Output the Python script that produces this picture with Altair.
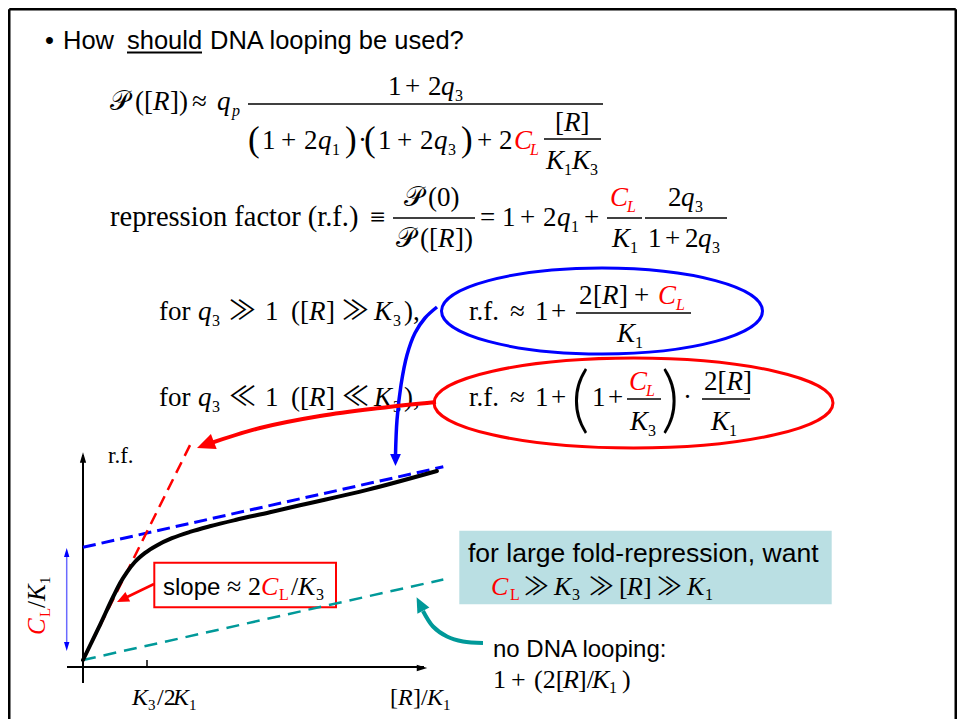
import altair as alt
import pandas as pd

W, H = 949, 711
OX, OY = 8, 8  # page offset of the plot area

# sketch coordinates: x in units of K3/2K1, y in r.f. units
GX0, GY0, UX, UY = 83.0, 667.0, 64.0, 7.0

curve_x = [0, 0.27, 0.47, 0.58, 0.69, 0.81, 0.97, 1.16, 1.39, 1.67, 1.98, 2.38, 2.92, 3.39, 4.44, 5.53]
curve_y = [1, 6.1, 10.0, 12.0, 13.6, 15.0, 16.3, 17.4, 18.4, 19.3, 20.1, 21.0, 22.1, 23.1, 25.3, 28.0]
blue_x = [0, 5.63]
blue_y = [17.1, 28.6]
red_x = [0, 1.70]
red_y = [1, 32.2]
teal_x = [0, 5.63]
teal_y = [1, 12.5]

SERIF = "Liberation Serif, Times New Roman, DejaVu Serif, serif"
SANS = "Liberation Sans, Arial, Helvetica, sans-serif"
SYMB = "Noto Sans CJK JP, DejaVu Sans, sans-serif"
THIN = "Lato, Liberation Serif, serif"
BLACK, RED, BLUE, TEAL = "#000000", "#ff0000", "#0000ff", "#009999"

texts = []


def add(x, y, t, st="r", s=27, c=BLACK):
    texts.append((x, y, t, st, s, c))


# title
T1 = 49
add(45, T1, "•", "a", 25.5)
add(63, T1, "How", "a", 25.5)
add(127, T1, "should", "a", 25.5)
add(210, T1, "DNA looping be used?", "a", 25.5)

# equation 1
L, N, D = 110, 95, 149
add(110, L, "𝒫"); add(135, L, "(["); add(153, L, "R", "i"); add(170, L, "])")
add(192, L, "≈"); add(217, L, "q", "i"); add(232, L + 6, "p", "i", 16)
add(388, N, "1"); add(405, N, "+"); add(428, N, "2"); add(441, N, "q", "i"); add(455, N + 6, "3", "r", 16)
add(248, 151, "(", "r", 35); add(262, D, "1"); add(281, D, "+"); add(304, D, "2"); add(318, D, "q", "i")
add(332, D + 6, "1", "r", 16); add(345, 151, ")", "r", 35); add(358, D, "·")
add(364, 151, "(", "r", 35); add(378, D, "1"); add(397, D, "+"); add(420, D, "2"); add(434, D, "q", "i")
add(448, D + 6, "3", "r", 16); add(461, 151, ")", "r", 35); add(477, D, "+"); add(499, D, "2")
add(514, D, "C", "i", 27, RED); add(530, D + 6, "L", "i", 16, RED)
add(555, 131, "["); add(564, 131, "R", "i"); add(580.5, 131, "]")
add(546, 169, "K", "i"); add(564, 175, "1", "r", 16); add(572, 169, "K", "i"); add(590, 175, "3", "r", 16)

# equation 2
M, N, D = 226, 206, 247
add(110, M, "repression factor (r.f.)", "r", 28.5); add(370, M, "≡")
add(404, N, "𝒫"); add(428, N, "(0)")
add(396, D, "𝒫"); add(420, D, "(["); add(438, D, "R", "i"); add(455, D, "])")
add(480, M, "="); add(502, M, "1"); add(520, M, "+"); add(543, M, "2"); add(557, M, "q", "i")
add(571, M + 6, "1", "r", 16); add(584, M, "+")
add(610, N, "C", "i", 27, RED); add(627, N + 6, "L", "i", 16, RED)
add(612, D, "K", "i"); add(630, D + 6, "1", "r", 16)
add(668, N, "2"); add(681, N, "q", "i"); add(695, N + 6, "3", "r", 16)
add(648, D, "1"); add(665, D, "+"); add(685, D, "2"); add(698, D, "q", "i"); add(712, D + 6, "3", "r", 16)

# equations 3 and 4
for M, rel in ((320, "≫"), (406, "≪")):
    add(159, M, "for"); add(198, M, "q", "i"); add(212, M + 6, "3", "r", 16); add(229, M, rel, "m", 27)
    add(265, M, "1"); add(291, M, "(["); add(309, M, "R", "i"); add(326, M, "]"); add(342, M, rel, "m", 27)
    add(374, M, "K", "i"); add(393, M + 6, "3", "r", 16); add(404, M, "),")
    add(469, M, "r.f."); add(510, M, "≈"); add(535, M, "1"); add(551, M, "+")

N, D = 304, 342
add(579, N, "2"); add(593, N, "["); add(602, N, "R", "i"); add(619, N, "]"); add(634, N, "+")
add(658, N, "C", "i", 27, RED); add(676, N + 6, "L", "i", 16, RED)
add(617, D, "K", "i"); add(635, D + 6, "1", "r", 16)

M, N, D = 406, 390, 430
add(571, 424, "(", "p", 72); add(592, M, "1"); add(608, M, "+")
add(629, N, "C", "i", 27, RED); add(646, N + 6, "L", "i", 16, RED)
add(630, D, "K", "i"); add(648, D + 6, "3", "r", 16)
add(661, 424, ")", "p", 72); add(683, M, "·")
add(704, N, "2"); add(717.5, N, "["); add(726.5, N, "R", "i"); add(743, N, "]")
add(711, D, "K", "i"); add(729, D + 6, "1", "r", 16)

# graph labels
add(108, 463, "r.f.", "r", 23)
add(132, 705, "K", "i", 24); add(148, 710, "3", "r", 15); add(157, 705, "/2", "r", 24)
add(173, 705, "K", "i", 24); add(189, 710, "1", "r", 15)
add(390, 705, "[", "r", 24); add(398, 705, "R", "i", 24); add(413, 705, "]/", "r", 24)
add(427, 705, "K", "i", 24); add(443, 710, "1", "r", 15)

# slope box
add(163, 595, "slope", "a", 24); add(227, 595, "≈", "r", 26); add(248, 595, "2", "r", 26)
add(261, 595, "C", "i", 26, RED); add(279, 600, "L", "r", 16, RED); add(291, 595, "/", "r", 26)
add(298, 595, "K", "i", 26); add(316, 600, "3", "r", 16)

# teal box
add(468, 562, "for large fold-repression, want", "a", 26.5)
add(491, 595, "C", "i", 26, RED); add(510, 600, "L", "r", 16, RED); add(524, 595, "≫", "m", 25)
add(554, 595, "K", "i", 26); add(572, 600, "3", "r", 16); add(589, 595, "≫", "m", 25)
add(619, 595, "[", "r", 26); add(627, 595, "R", "i", 26); add(643, 595, "]", "r", 26)
add(657, 595, "≫", "m", 25); add(687, 595, "K", "i", 26); add(705, 600, "1", "r", 16)

# no looping note
add(493, 657, "no DNA looping:", "a", 24)
add(493, 688, "1", "r", 26); add(511, 688, "+", "r", 26); add(534, 688, "(2[", "r", 26)
add(563, 688, "R", "i", 26); add(578, 688, "]/", "r", 26); add(592, 688, "K", "i", 26)
add(609, 693, "1", "r", 16); add(622, 688, ")", "r", 26)

# rotated label C_L/K_1
rot = [(45, 635, "C", "i", 25, RED), (50, 617, "L", "r", 15, RED), (45, 608, "/", "r", 25, BLACK),
       (45, 601, "K", "i", 25, BLACK), (50, 584, "1", "r", 15, BLACK)]

# straight segments in slide pixels: x, y, x2, y2, width, colour
segs = [
    (9.25, 9.25, 9.25, 719, 2.5, BLACK), (9.25, 9.25, 955.75, 9.25, 2.5, BLACK),
    (955.75, 9.25, 955.75, 719, 2.5, BLACK),
    (127, 52.5, 202, 52.5, 1.8, BLACK),
    (248, 104, 603, 104, 1.3, BLACK), (544, 139, 601, 139, 1.3, BLACK),
    (393, 218, 475, 218, 1.3, BLACK), (607, 218, 642, 218, 1.3, BLACK), (645, 218, 727, 218, 1.3, BLACK),
    (576, 313, 691, 313, 1.3, BLACK), (627, 399, 661, 399, 1.3, BLACK), (702, 399, 750, 399, 1.3, BLACK),
    (66.7, 552, 66.7, 647, 1.5, "#6a6aff"),
]

blue_arrow = [(437, 307), (425, 318), (415, 333), (407, 355), (401, 385), (397, 420), (395.5, 455)]
red_arrow = [(436, 402), (380, 408), (320, 416), (260, 428), (208, 444)]
teal_arrow = [(483, 643), (463, 641.5), (447, 636.5), (433, 626.5), (423, 611)]
slope_arrow = [(154, 584), (124, 598.5)]

# arrow heads: centre x, y, size (length^2), angle, colour
heads_wide = [(395.5, 460, 144, 180, BLUE), (205.4, 444.7, 324, 249, RED),
              (420, 604, 225, 333, TEAL), (122.4, 599.4, 144, 244, RED)]
heads_narrow = [(83, 457.5, 110, 0, BLACK), (422, 668, 110, 90, BLACK),
                (66.7, 552.5, 81, 0, BLUE), (66.7, 646.5, 81, 180, BLUE)]

# ellipses: centre, rx, ry, colour
ellipses = [(602, 311, 160.5, 43, BLUE), (633.5, 403, 199.5, 45, RED)]

SX = alt.Scale(domain=[OX, OX + W], nice=False, zero=False)
SY = alt.Scale(domain=[OY, OY + H], nice=False, zero=False, reverse=True)
GXS = alt.Scale(domain=[(OX - GX0) / UX, (OX + W - GX0) / UX], nice=False, zero=False)
GYS = alt.Scale(domain=[(GY0 - (OY + H)) / UY, (GY0 - OY) / UY], nice=False, zero=False)


def xy(sx, sy):
    return dict(x=alt.X("x:Q", scale=sx, axis=None), y=alt.Y("y:Q", scale=sy, axis=None))


def path(pts, color, width, sx=SX, sy=SY, interp="catmull-rom", dash=None, cap="butt"):
    df = pd.DataFrame({"x": [p[0] for p in pts], "y": [p[1] for p in pts], "i": list(range(len(pts)))})
    kw = dict(color=color, strokeWidth=width, interpolate=interp, strokeCap=cap)
    if dash:
        kw["strokeDash"] = dash
    return alt.Chart(df).mark_line(**kw).encode(order="i:Q", **xy(sx, sy))


def seg_layer(rows, sx, sy):
    df = pd.DataFrame(rows, columns=["x", "y", "x2", "y2", "w", "c"])
    return alt.Chart(df).mark_rule().encode(
        x2="x2:Q", y2="y2:Q",
        strokeWidth=alt.StrokeWidth("w:Q", scale=None),
        color=alt.Color("c:N", scale=None), **xy(sx, sy))


def text_layer(rows, font, style, angle=None, weight=None):
    df = pd.DataFrame(rows, columns=["x", "y", "t", "st", "s", "c"])
    kw = dict(align="left", baseline="alphabetic", font=font, fontStyle=style)
    if angle is not None:
        kw["angle"] = angle
    if weight is not None:
        kw["fontWeight"] = weight
    return alt.Chart(df).mark_text(**kw).encode(
        text="t:N", size=alt.Size("s:Q", scale=None),
        color=alt.Color("c:N", scale=None), **xy(SX, SY))


def sym_layer(rows, shape, filled, sw=1):
    df = pd.DataFrame(rows, columns=["x", "y", "s", "a", "c"])
    kw = dict(shape=shape, filled=filled, opacity=1)
    if not filled:
        kw["strokeWidth"] = sw
    return alt.Chart(df).mark_point(**kw).encode(
        size=alt.Size("s:Q", scale=None), angle=alt.Angle("a:Q", scale=None),
        color=alt.Color("c:N", scale=None), **xy(SX, SY))


def ellipse_shape(r):
    k = 0.5523
    return (f"M1,0C1,{k*r:.4f} {k:.4f},{r:.4f} 0,{r:.4f}C{-k:.4f},{r:.4f} -1,{k*r:.4f} -1,0"
            f"C-1,{-k*r:.4f} {-k:.4f},{-r:.4f} 0,{-r:.4f}C{k:.4f},{-r:.4f} 1,{-k*r:.4f} 1,0Z")


# --- bottom slide layer: boxes ---
teal_box = alt.Chart(pd.DataFrame([{"x": 459.3, "x2": 831.7, "y": 530.7, "y2": 604.3}])).mark_rect(
    color="#badfe3").encode(x2="x2:Q", y2="y2:Q", **xy(SX, SY))
slope_box = alt.Chart(pd.DataFrame([{"x": 154.3, "x2": 336, "y": 562.7, "y2": 607.3}])).mark_rect(
    fill="white", stroke=RED, strokeWidth=2).encode(x2="x2:Q", y2="y2:Q", **xy(SX, SY))
bottom = alt.layer(teal_box, slope_box)

# --- sketch graph layer ---
axes = [(0, (GY0 - 683) / UY, 0, (GY0 - 455) / UY, 2, BLACK),
        ((67 - GX0) / UX, 0, (424 - GX0) / UX, 0, 2, BLACK),
        (1, 0, 1, 1, 1.5, BLACK)]
graph = alt.layer(
    seg_layer(axes, GXS, GYS),
    path(list(zip(teal_x, teal_y)), TEAL, 2.5, GXS, GYS, "linear", [13, 8]),
    path(list(zip(blue_x, blue_y)), BLUE, 3, GXS, GYS, "linear", [13, 6]),
    path(list(zip(red_x, red_y)), RED, 2.5, GXS, GYS, "linear", [12, 7]),
    path(list(zip(curve_x, curve_y)), BLACK, 4, GXS, GYS, "monotone", None, "round"),
)

# --- top slide layer ---
rom = [t for t in texts if t[3] == "r"]
ita = [t for t in texts if t[3] == "i"]
san = [t for t in texts if t[3] == "a"]
sym = [t for t in texts if t[3] == "m"]
big = [t for t in texts if t[3] == "p"]
rot_r = [t for t in rot if t[3] == "r"]
rot_i = [t for t in rot if t[3] == "i"]

ell_layers = [sym_layer([(cx, cy, (2 * rx) ** 2, 0, c)], ellipse_shape(ry / rx), False, 3)
              for cx, cy, rx, ry, c in ellipses]

top = alt.layer(
    seg_layer(segs, SX, SY),
    text_layer(rom, SERIF, "normal"),
    text_layer(ita, SERIF, "italic"),
    text_layer(san, SANS, "normal"),
    text_layer(sym, SYMB, "normal"),
    text_layer(big, THIN, "normal", weight=300),
    text_layer(rot_r, SERIF, "normal", 270),
    text_layer(rot_i, SERIF, "italic", 270),
    *ell_layers,
    path(blue_arrow, BLUE, 3.5),
    path(red_arrow, RED, 4),
    path(teal_arrow, TEAL, 4),
    path(slope_arrow, RED, 2.5, interp="linear"),
    sym_layer(heads_wide, "M0,-1L0.9,1L-0.9,1Z", True),
    sym_layer(heads_narrow, "M0,-1L0.6,1L-0.6,1Z", True),
)

chart = alt.layer(bottom, graph, top).resolve_scale(
    x="independent", y="independent"
).properties(
    width=W, height=H, padding=0, autosize="none", background="white"
).configure_view(strokeWidth=0)

chart.save("out.html", embed_options={"renderer": "svg", "actions": False})
